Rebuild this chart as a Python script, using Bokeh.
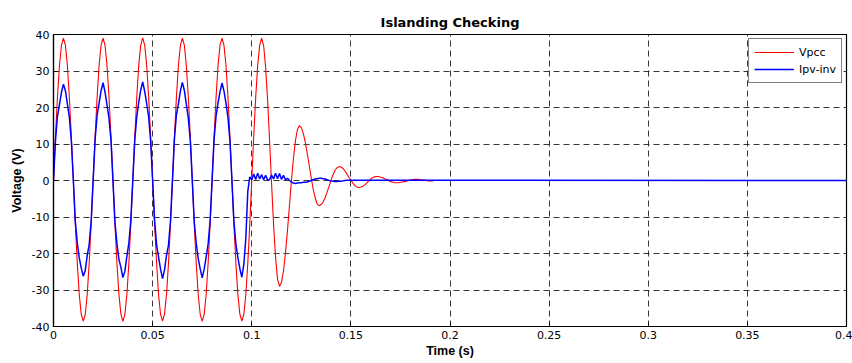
from bokeh.plotting import figure
from bokeh.models import Range1d, FixedTicker
from bokeh.embed import file_html
from bokeh.resources import INLINE

# ---- data ----
TITLE = "Islanding Checking"
X_LABEL = "Time (s)"
Y_LABEL = "Voltage (V)"
SAMPLE_STEP = 0.001   # seconds between read-off samples
T_END = 0.4

X_TICKS = [0, 0.05, 0.1, 0.15, 0.2, 0.25, 0.3, 0.35, 0.4]
X_TICK_LABELS = ["0", "0.05", "0.1", "0.15", "0.2", "0.25", "0.3", "0.35", "0.4"]
Y_TICKS = [-40, -30, -20, -10, 0, 10, 20, 30, 40]
Y_TICK_LABELS = ["-40", "-30", "-20", "-10", "0", "10", "20", "30", "40"]

# Vpcc samples, t = 0.000 .. 0.200 s
vpcc = [
    0.0, 12.1, 22.9, 31.5, 37.0, 39.0, 37.1, 31.6, 22.8, 12.0, 0.1, -12.0, -22.7, -31.3, -36.7, -38.5, -36.8, -31.3, -22.6, -11.9,
    0.1, 12.1, 22.9, 31.6, 37.1, 39.0, 37.0, 31.5, 22.9, 12.1, 0.0, -12.1, -22.7, -31.2, -36.6, -38.6, -36.7, -31.3, -22.7, -12.0,
    0.0, 12.0, 22.8, 31.6, 37.1, 39.1, 37.1, 31.6, 22.8, 12.1, 0.1, -12.0, -22.6, -31.3, -36.7, -38.5, -36.6, -31.2, -22.7, -11.9,
    0.1, 12.1, 22.9, 31.5, 37.0, 39.0, 37.1, 31.5, 22.9, 12.0, 0.0, -12.1, -22.7, -31.3, -36.7, -38.6, -36.7, -31.3, -22.6, -12.0,
    0.0, 12.1, 22.9, 31.6, 37.1, 39.0, 37.0, 31.6, 22.8, 12.1, 0.1, -12.0, -22.7, -31.2, -36.6, -38.5, -36.7, -31.3, -22.7, -12.0,
    0.0, 12.1, 22.9, 31.6, 37.1,
    39.0, 36.9, 31.0, 22.0, 10.9, -0.9, -12.0, -21.0, -27.0, -29.0,
    -27.9, -24.8, -19.9, -13.8, -7.0, -0.2, 5.9, 10.8, 13.9, 15.0,
    14.5, 12.9, 10.5, 7.4, 4.1, 0.7, -2.4, -4.8, -6.4, -6.9,
    -6.6, -5.9, -4.7, -3.2, -1.6, 0.1, 1.6, 2.8, 3.5, 3.8,
    3.7, 3.3, 2.6, 1.8, 0.9, 0.1, -0.7, -1.4, -1.8, -1.9,
    -1.8, -1.6, -1.2, -0.7, -0.1, 0.4, 0.8, 1.0, 1.1,
    1.1, 0.9, 0.8, 0.5, 0.3, 0.0, -0.3, -0.4, -0.6, -0.6,
    -0.6, -0.5, -0.4, -0.3, -0.2, 0.0, 0.1, 0.2, 0.3, 0.3,
    0.3, 0.2, 0.2, 0.1, 0.0, -0.1, -0.1, -0.1, 0.0, 0.0, 0.0, 0.0, 0.0, 0.0, 0.0, 0.0, 0.0,
]

# Ipv-inv samples, t = 0.000 .. 0.150 s
ipv_inv = [
    0.0, 11.0, 17.6, 20.8, 24.1, 26.4, 24.6, 21.0, 17.3, 10.9, 0.2, -11.2, -17.1, -21.2, -24.0, -26.2, -24.7, -20.6, -17.5, -11.1,
    0.1, 11.3, 17.9, 21.2, 24.6, 26.8, 24.2, 20.7, 17.0, 11.0, -0.1, -11.4, -17.3, -21.6, -23.8, -26.6, -24.9, -20.8, -17.2, -10.9,
    0.2, 11.1, 17.5, 21.5, 24.8, 27.0, 24.4, 21.1, 17.4, 10.8, 0.0, -11.0, -17.6, -21.0, -24.3, -26.9, -24.5, -20.5, -17.7, -11.2,
    0.0, 11.4, 18.0, 21.0, 24.5, 26.9, 24.7, 20.9, 17.1, 11.1, 0.1, -11.3, -17.2, -21.4, -24.2, -26.7, -24.3, -21.0, -17.4, -11.0,
    0.1, 11.2, 17.7, 21.3, 24.3, 26.7, 24.5, 21.2, 17.3, 10.9, 0.0, -11.2, -17.4, -21.1, -24.1, -26.5, -23.0, -16.0, -3.0, 1.0,
    0.2, 1.8, 0.3, 2.0, 0.4, 1.6, 0.2, 1.4, 0.1, 0.3,
    1.5, 0.4, 2.0, 0.5, 1.9, 0.3, 1.4, 0.2, 0.6, 0.0,
    -0.4, -0.7, -0.8, -0.7, -0.6, -0.6, -0.5, -0.5, -0.4, -0.2,
    0.0, 0.2, 0.4, 0.5, 0.6, 0.6, 0.5, 0.4, 0.2, 0.0,
    -0.1, -0.2, -0.3, -0.3, -0.2, -0.2, -0.1, 0.0, 0.1, 0.1,
    0.1,
]
TAIL_VALUE = 0.0  # both traces sit at 0 until t = 0.4 s


def times_for(values):
    return [i * SAMPLE_STEP for i in range(len(values))] + [T_END]


vpcc_t = times_for(vpcc)
vpcc_y = vpcc + [TAIL_VALUE]
ipv_t = times_for(ipv_inv)
ipv_y = ipv_inv + [TAIL_VALUE]

# ---- figure ----
p = figure(
    width=852, height=363,
    output_backend="svg", toolbar_location=None,
    x_range=Range1d(X_TICKS[0], X_TICKS[-1]),
    y_range=Range1d(Y_TICKS[0], Y_TICKS[-1]),
    title=TITLE,
    min_border_left=53, min_border_right=6,
    min_border_top=34, min_border_bottom=37,
    background_fill_color="white", border_fill_color="white",
)

p.title.align = "center"
p.title.text_font = "DejaVu Sans"
p.title.text_font_size = "13px"
p.title.text_font_style = "bold"
p.title.text_color = "black"

p.line(vpcc_t, vpcc_y, line_color="#ff0000", line_width=1.1, legend_label="Vpcc")
p.line(ipv_t, ipv_y, line_color="#0000ff", line_width=1.5, legend_label="Ipv-inv")

p.xaxis.ticker = FixedTicker(ticks=X_TICKS)
p.yaxis.ticker = FixedTicker(ticks=Y_TICKS)
p.xaxis.major_label_overrides = {t: s for t, s in zip(X_TICKS, X_TICK_LABELS)}
p.yaxis.major_label_overrides = {t: s for t, s in zip(Y_TICKS, Y_TICK_LABELS)}

for ax in (p.xaxis, p.yaxis):
    ax.major_label_text_font = "DejaVu Sans"
    ax.major_label_text_font_size = "11px"
    ax.major_label_text_color = "black"
    ax.axis_line_color = "black"
    ax.axis_line_width = 1.2
    ax.major_tick_in = 4
    ax.major_tick_out = 0
    ax.major_tick_line_color = "black"
    ax.minor_tick_line_color = None
    ax.major_label_standoff = 4
    ax.axis_label_text_font = "Liberation Sans"
    ax.axis_label_text_font_size = "12.5px"
    ax.axis_label_text_font_style = "bold"
    ax.axis_label_text_color = "black"

p.xaxis.axis_label = X_LABEL
p.xaxis.axis_label_standoff = 2
p.yaxis.axis_label = Y_LABEL
p.yaxis.axis_label_standoff = 5

for g in (p.xgrid, p.ygrid):
    g.grid_line_color = "#222222"
    g.grid_line_dash = "6 4"
    g.grid_line_width = 1
    g.grid_line_alpha = 0.9

p.outline_line_color = "black"
p.outline_line_width = 1.2
p.outline_line_alpha = 1.0

lg = p.legend[0]
lg.location = "top_right"
lg.margin = 4
lg.padding = 5
lg.spacing = 1
lg.glyph_width = 40
lg.glyph_height = 16
lg.label_height = 16
lg.label_standoff = 5
lg.label_text_font = "DejaVu Sans"
lg.label_text_font_size = "11px"
lg.label_text_color = "black"
lg.border_line_color = "black"
lg.border_line_width = 1
lg.background_fill_color = "white"
lg.background_fill_alpha = 1.0

open("out.html", "w").write(file_html(p, INLINE))
